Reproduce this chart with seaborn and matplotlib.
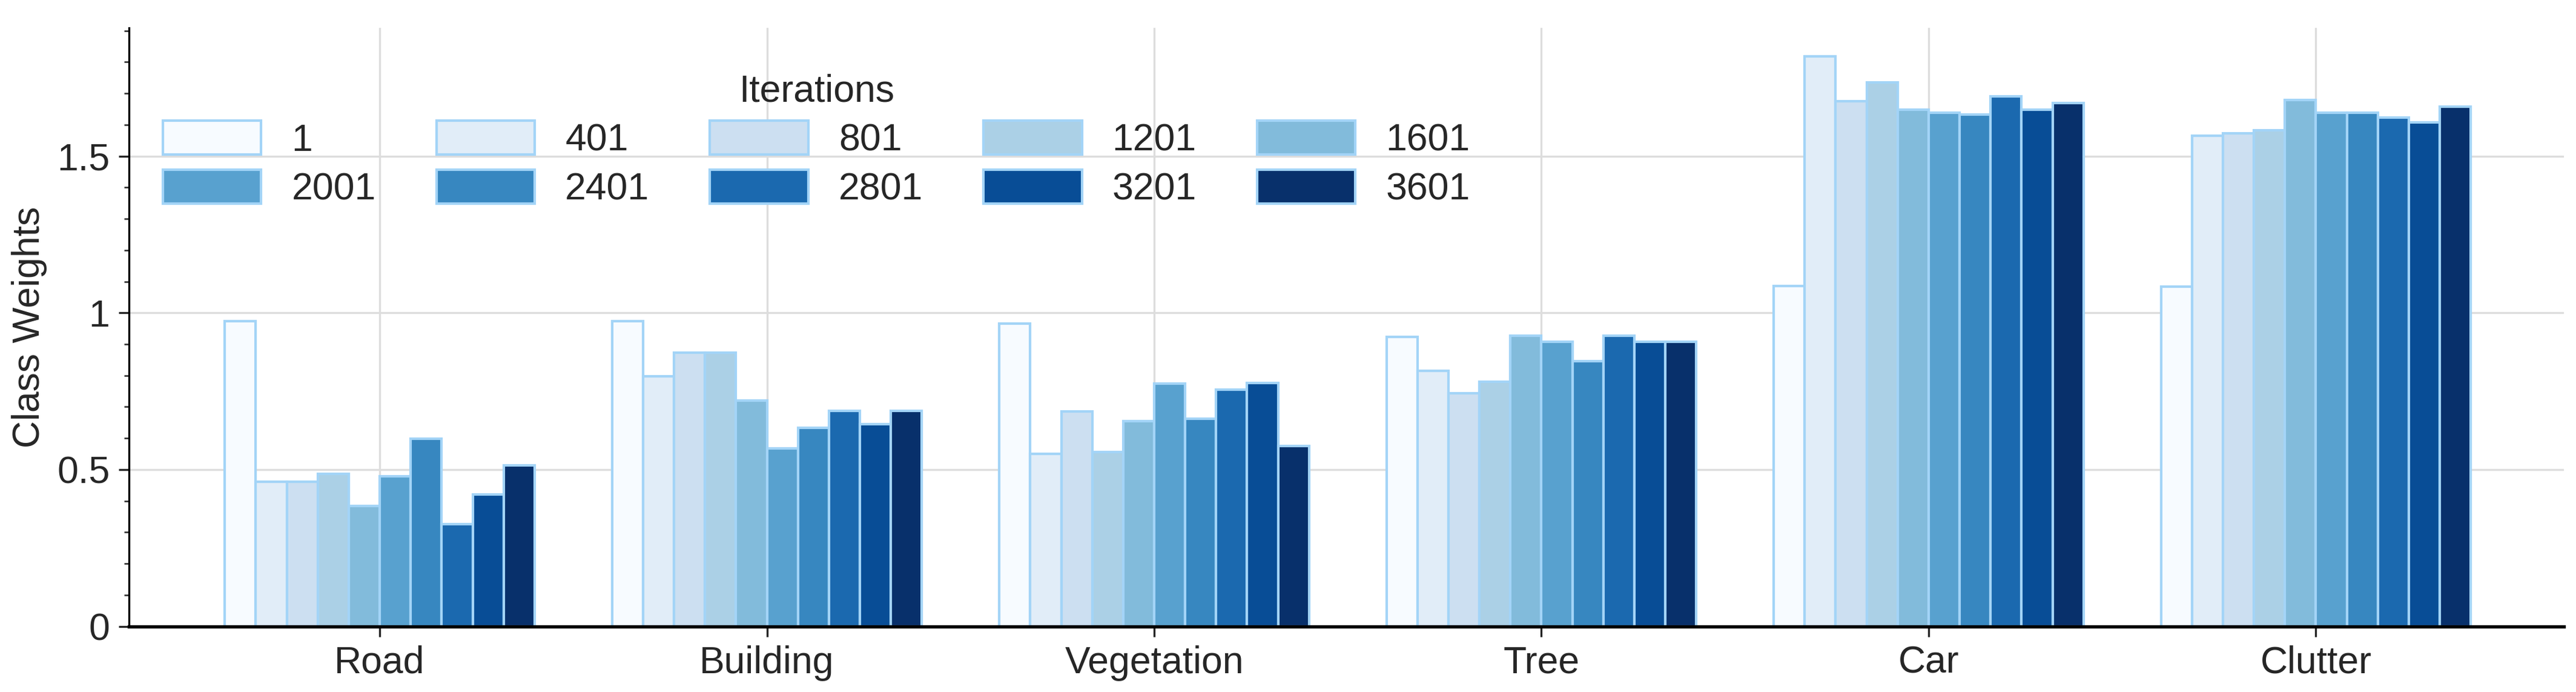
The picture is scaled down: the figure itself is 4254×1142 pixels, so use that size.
import numpy as np
import pandas as pd
import matplotlib
matplotlib.use("Agg")
import matplotlib.pyplot as plt
import seaborn as sns
from matplotlib.ticker import MultipleLocator, FuncFormatter

classes = ["Road", "Building", "Vegetation", "Tree", "Car", "Clutter"]
iterations = ["1", "401", "801", "1201", "1601", "2001", "2401", "2801", "3201", "3601"]

road = [0.973, 0.462, 0.462, 0.486, 0.383, 0.479, 0.599, 0.325, 0.420, 0.514]
building = [0.973, 0.797, 0.873, 0.873, 0.720, 0.568, 0.634, 0.687, 0.645, 0.687]
vegetation = [0.966, 0.551, 0.685, 0.556, 0.655, 0.775, 0.662, 0.755, 0.777, 0.575]
tree = [0.924, 0.814, 0.744, 0.780, 0.927, 0.908, 0.845, 0.927, 0.908, 0.907]
car = [1.086, 1.818, 1.676, 1.735, 1.648, 1.639, 1.632, 1.690, 1.648, 1.669]
clutter = [1.083, 1.566, 1.572, 1.582, 1.680, 1.638, 1.638, 1.624, 1.608, 1.658]

rows = []
for cls, vals in zip(classes, [road, building, vegetation, tree, car, clutter]):
    for it, v in zip(iterations, vals):
        rows.append({"Class": cls, "Iterations": it, "Weight": v})
df = pd.DataFrame(rows)

sns.set_theme(style="white")
plt.rcParams['font.family'] = ['Liberation Sans', 'DejaVu Sans']

colors = [plt.cm.Blues(x) for x in np.linspace(0, 1, 10)]

fig, ax = plt.subplots(figsize=(14.183, 3.807), dpi=300)
sns.barplot(data=df, x="Class", y="Weight", hue="Iterations", hue_order=iterations,
            palette=colors, saturation=1, width=0.8, edgecolor="#a3d4f7",
            linewidth=1.0, ax=ax, legend=True)

ax.set_ylim(0, 1.91)
ax.set_xlim(-0.648, 5.64)
ax.yaxis.set_major_locator(MultipleLocator(0.5))
ax.yaxis.set_minor_locator(MultipleLocator(0.1))
ax.yaxis.set_major_formatter(FuncFormatter(lambda v, p: "%g" % v))
ax.tick_params(axis='y', which='major', length=4, width=0.8, labelsize=15, left=True)
ax.tick_params(axis='y', which='minor', length=2, width=0.6, left=True)
ax.tick_params(axis='x', length=4, width=0.8, labelsize=15, bottom=True)
ax.set_axisbelow(True)
ax.grid(True, color="#dddddd", linewidth=0.8)
sns.despine(ax=ax)
ax.spines['bottom'].set_linewidth(1.3)
ax.spines['bottom'].set_color('black')
ax.spines['left'].set_color('black')
ax.spines['left'].set_linewidth(0.8)
ax.set_xlabel("")
ax.set_ylabel("Class Weights", fontsize=15)

# row-wise legend order: matplotlib fills columns first, so interleave
handles, labels = ax.get_legend_handles_labels()
order = [0, 5, 1, 6, 2, 7, 3, 8, 4, 9]
leg = ax.legend([handles[i] for i in order], [labels[i] for i in order],
                title="Iterations", ncol=5, loc="upper left", bbox_to_anchor=(0.0, 0.98),
                frameon=False, fontsize=15, title_fontsize=15,
                handlelength=2.6, handleheight=1.0, columnspacing=1.6, labelspacing=0.3)

fig.subplots_adjust(left=0.05, right=0.995, top=0.96, bottom=0.095)
fig.savefig("out.png", dpi=300)
